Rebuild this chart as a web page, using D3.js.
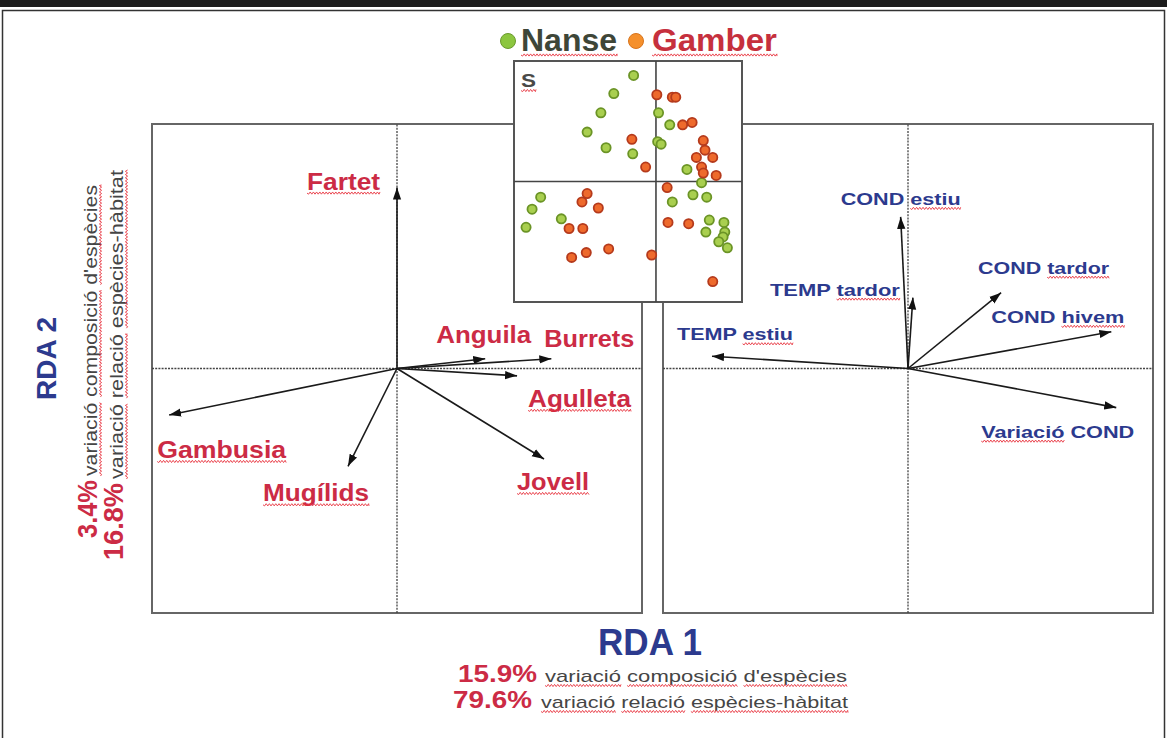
<!DOCTYPE html>
<html>
<head>
<meta charset="utf-8">
<script src="https://cdn.jsdelivr.net/npm/d3@7"></script>
<style>
  body { margin: 0; background: #fff; }
  text { font-family: 'Liberation Sans', Arial, sans-serif; }
</style>
</head>
<body>
<div class="visual"></div>
<script>
const [width, height] = [1167, 738];

// species scores (RDA1, RDA2), left biplot
const species = ['Fartet', 'Gambusia', 'Mugílids', 'Jovell', 'Anguila', 'Burrets', 'Agulleta'];
const speciesRDA1 = [0.0, -0.93, -0.2, 0.6, 0.36, 0.63, 0.49];
const speciesRDA2 = [0.74, -0.19, -0.4, -0.37, 0.04, 0.04, -0.03];

// environmental variables (RDA1, RDA2), right biplot
const variables = ['COND estiu', 'TEMP tardor', 'COND tardor', 'COND hivem', 'TEMP estiu', 'Variació COND'];
const variablesRDA1 = [-0.03, 0.02, 0.38, 0.83, -0.8, 0.85];
const variablesRDA2 = [0.62, 0.29, 0.31, 0.15, 0.05, -0.16];

// site scores, inset
const nanseSites = [
  [-0.26, 0.88], [-0.49, 0.73], [-0.64, 0.57], [-0.8, 0.41], [-0.58, 0.28], [-0.27, 0.23],
  [0.03, 0.57], [0.16, 0.47], [0.02, 0.33], [0.06, 0.31], [0.36, 0.1], [0.53, -0.01],
  [-1.34, -0.13], [-1.44, -0.23], [-1.51, -0.38], [-1.1, -0.31], [0.19, -0.17], [0.43, -0.11],
  [0.59, -0.13], [0.62, -0.32], [0.58, -0.42], [0.79, -0.34], [0.8, -0.42], [0.78, -0.46],
  [0.73, -0.5], [0.83, -0.55],
];
const gamberSites = [
  [0.01, 0.72], [0.19, 0.7], [0.23, 0.7], [0.31, 0.47], [0.42, 0.49], [-0.28, 0.35],
  [0.55, 0.34], [0.57, 0.26], [0.66, 0.2], [0.47, 0.2], [0.53, 0.12], [0.7, 0.05],
  [-0.12, 0.12], [0.55, 0.07], [0.13, -0.05], [-0.8, -0.1], [-0.86, -0.17], [-0.67, -0.22],
  [-1.01, -0.39], [-0.85, -0.39], [0.14, -0.34], [0.38, -0.35], [-0.81, -0.59], [-0.98, -0.63],
  [-0.55, -0.56], [-0.05, -0.61], [0.66, -0.83],
];

const legendNames = ['Nanse', 'Gamber'];
const rda1Pct = ['15.9%', '79.6%'];
const rda2Pct = ['3.4%', '16.8%'];
const pctTexts = ["variació composició d'espècies", 'variació relació espècies-hàbitat'];

// label placement relative to arrow tip: [dx, dy, textLength, underlined word indices]
const speciesLabelLayout = [
  [-90, 2, 73, [0]], [-12, 43, 129, [0]], [-85, 35, 106, [0]], [-27, 31, 72, [0]],
  [-49, -16, 95, []], [-7, -12, 90, []], [11, 31, 103, [0]],
];
const variablesLabelLayout = [
  [-60, -12, 120, [1]], [-143, -2, 130, [1]], [-23, -19, 131, [1]],
  [-120, -9, 133, [1]], [-35, -16, 116, [1]], [-135, 30, 153, [0]],
];

const RED = '#cc2b45';
const BLUE = '#2c3a8e';
const GREY = '#454545';

const svg = d3.select('.visual').append('svg').attr('width', width).attr('height', height);
svg.append('rect').attr('width', width).attr('height', height).attr('fill', '#fff');

const defs = svg.append('defs');
defs.append('marker')
  .attr('id', 'head')
  .attr('viewBox', '0 -4 11 8')
  .attr('refX', 11)
  .attr('refY', 0)
  .attr('markerUnits', 'userSpaceOnUse')
  .attr('markerWidth', 12)
  .attr('markerHeight', 9)
  .attr('orient', 'auto')
  .append('path')
  .attr('d', 'M0,-3.8L11,0L0,3.8Z')
  .attr('fill', '#111');

const zig = (x0, x1, y) => {
  let d = `M${x0},${y}`;
  for (let x = x0, i = 0; x < x1; x += 1.6, i++) {
    d += `L${Math.min(x + 1.6, x1)},${y + (i % 2 ? -1.1 : 1.1)}`;
  }
  return d;
};

const addText = (parent, o) => {
  const g = parent.append('g').attr('transform', `translate(${o.x},${o.y}) rotate(${o.rot || 0})`);
  const t = g.append('text')
    .attr('font-size', o.size)
    .attr('font-weight', o.weight || 'bold')
    .attr('fill', o.fill)
    .text(o.text);
  if (o.length) t.attr('textLength', o.length).attr('lengthAdjust', 'spacingAndGlyphs');
  const words = [];
  let idx = 0;
  o.text.split(' ').forEach((w) => {
    words.push([idx, idx + w.length]);
    idx += w.length + 1;
  });
  const node = t.node();
  (o.wavy || []).forEach((wi) => {
    const [a, b] = words[wi];
    const x0 = node.getStartPositionOfChar(a).x;
    const x1 = node.getEndPositionOfChar(b - 1).x;
    g.append('path')
      .attr('d', zig(x0, x1, o.uy || 3.5))
      .attr('fill', 'none')
      .attr('stroke', '#e8343f')
      .attr('stroke-width', 1)
      .attr('opacity', 0.9);
  });
  return t;
};

// outer frame
svg.append('rect').attr('x', 0).attr('y', 0).attr('width', width).attr('height', 7).attr('fill', '#1b1b1b');
svg.append('rect')
  .attr('x', 2.5).attr('y', 10.5).attr('width', width - 5).attr('height', 760)
  .attr('fill', 'none').attr('stroke', '#333').attr('stroke-width', 1.5);

const drawBiplot = (x, y, names, v1, v2, layout, color, fontSize) => {
  const g = svg.append('g');
  const [x0, x1] = x.range();
  const [y0, y1] = y.range();
  g.append('rect')
    .attr('x', x0).attr('y', y1).attr('width', x1 - x0).attr('height', y0 - y1)
    .attr('fill', '#fff').attr('stroke', '#666').attr('stroke-width', 2);
  g.append('line')
    .attr('x1', x0).attr('x2', x1).attr('y1', y(0)).attr('y2', y(0))
    .attr('stroke', '#444').attr('stroke-width', 1.3).attr('stroke-dasharray', '2,1.2');
  g.append('line')
    .attr('x1', x(0)).attr('x2', x(0)).attr('y1', y0).attr('y2', y1)
    .attr('stroke', '#444').attr('stroke-width', 1.3).attr('stroke-dasharray', '2,1.2');

  g.selectAll('line.arrow')
    .data(names)
    .enter()
    .append('line')
    .attr('class', 'arrow')
    .attr('x1', x(0)).attr('y1', y(0))
    .attr('x2', (d, i) => x(v1[i]))
    .attr('y2', (d, i) => y(v2[i]))
    .attr('stroke', '#1a1a1a')
    .attr('stroke-width', 1.6)
    .attr('marker-end', 'url(#head)');

  names.forEach((name, i) => {
    const [dx, dy, len, wavy] = layout[i];
    addText(g, {
      x: x(v1[i]) + dx, y: y(v2[i]) + dy, text: name, size: fontSize,
      fill: color, length: len, wavy,
    });
  });
};

const xL = d3.scaleLinear().domain([-1, 1]).range([152, 642]);
const yL = d3.scaleLinear().domain([-1, 1]).range([613, 124]);
const xR = d3.scaleLinear().domain([-1, 1]).range([663, 1153]);
const yR = d3.scaleLinear().domain([-1, 1]).range([613, 124]);

drawBiplot(xL, yL, species, speciesRDA1, speciesRDA2, speciesLabelLayout, RED, 24);
drawBiplot(xR, yR, variables, variablesRDA1, variablesRDA2, variablesLabelLayout, BLUE, 17);

// site inset
const xS = d3.scaleLinear().domain([-1.65, 1]).range([514, 742]);
const yS = d3.scaleLinear().domain([-1, 1]).range([302, 61]);
const inset = svg.append('g');
inset.append('rect')
  .attr('x', 514).attr('y', 61).attr('width', 228).attr('height', 241)
  .attr('fill', '#fff').attr('stroke', '#555').attr('stroke-width', 2);
inset.append('line')
  .attr('x1', 514).attr('x2', 742).attr('y1', yS(0)).attr('y2', yS(0))
  .attr('stroke', '#444').attr('stroke-width', 1.6);
inset.append('line')
  .attr('x1', xS(0)).attr('x2', xS(0)).attr('y1', 61).attr('y2', 302)
  .attr('stroke', '#444').attr('stroke-width', 1.6);

const drawSites = (sites, fill, stroke) => {
  inset.selectAll(null)
    .data(sites)
    .enter()
    .append('circle')
    .attr('cx', (d) => xS(d[0]))
    .attr('cy', (d) => yS(d[1]))
    .attr('r', 4.6)
    .attr('fill', fill)
    .attr('stroke', stroke)
    .attr('stroke-width', 1.8);
};
drawSites(nanseSites, '#a9cf4f', '#6b9426');
drawSites(gamberSites, '#ee6a2c', '#b53a1c');

addText(inset, { x: 521, y: 87, text: 'S', size: 19, fill: '#4a4a48', length: 15, wavy: [0] });

// legend
svg.append('circle').attr('cx', 508).attr('cy', 41).attr('r', 7.5).attr('fill', '#8cc63f').attr('stroke', '#6b9a2e').attr('stroke-width', 1);
svg.append('circle').attr('cx', 636).attr('cy', 41).attr('r', 7.5).attr('fill', '#f5902c').attr('stroke', '#d8741c').attr('stroke-width', 1);
addText(svg, { x: 521, y: 51, text: legendNames[0], size: 31, fill: '#3e4638', length: 96, wavy: [0], uy: 4 });
addText(svg, { x: 652, y: 51, text: legendNames[1], size: 31, fill: '#c6303d', length: 125, wavy: [0], uy: 4 });

// axis titles
addText(svg, { x: 598, y: 655, text: 'RDA 1', size: 36, fill: BLUE, length: 104 });
addText(svg, { x: 56, y: 400, rot: -90, text: 'RDA 2', size: 28, fill: BLUE, length: 83 });

// explained variance, RDA 1
addText(svg, { x: 458, y: 682, text: rda1Pct[0], size: 23, fill: RED, length: 79 });
addText(svg, { x: 545, y: 682, text: pctTexts[0], size: 17, weight: 'normal', fill: GREY, length: 302, wavy: [0, 1, 2] });
addText(svg, { x: 453, y: 708, text: rda1Pct[1], size: 23, fill: RED, length: 79 });
addText(svg, { x: 541, y: 708, text: pctTexts[1], size: 17, weight: 'normal', fill: GREY, length: 307, wavy: [0, 1, 2] });

// explained variance, RDA 2
addText(svg, { x: 97, y: 538, rot: -90, text: rda2Pct[0], size: 27, fill: RED, length: 58 });
addText(svg, { x: 97, y: 476, rot: -90, text: pctTexts[0], size: 19, weight: 'normal', fill: GREY, length: 291, wavy: [0, 1, 2] });
addText(svg, { x: 123, y: 560, rot: -90, text: rda2Pct[1], size: 27, fill: RED, length: 77 });
addText(svg, { x: 123, y: 479, rot: -90, text: pctTexts[1], size: 19, weight: 'normal', fill: GREY, length: 309, wavy: [0, 1, 2] });
</script>
</body>
</html>
